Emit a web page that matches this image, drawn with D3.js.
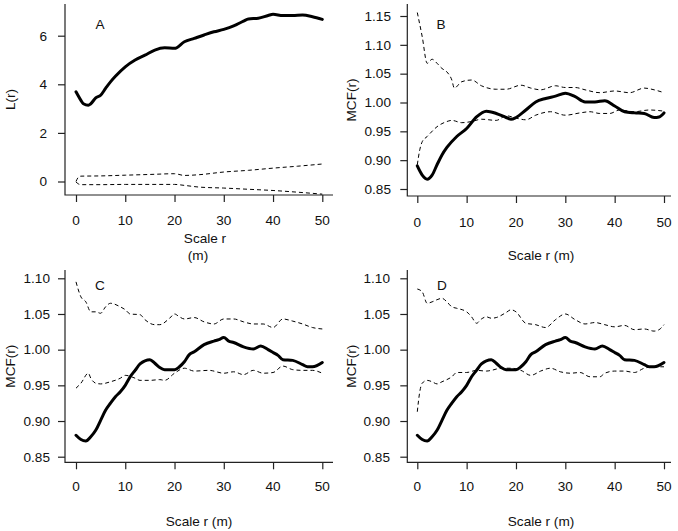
<!DOCTYPE html>
<html><head><meta charset="utf-8">
<script src="https://cdn.jsdelivr.net/npm/d3@7"></script>
<style>
html,body{margin:0;padding:0;background:#fff;}
text{font-family:"Liberation Sans",Arial,Helvetica,sans-serif;fill:#111;}
</style></head>
<body><svg id="c" width="678" height="531"></svg>
<script>
// ---------- DATA ----------
const xTicks = [0, 10, 20, 30, 40, 50];
const yTicksA = [0, 2, 4, 6];
const yTicksB = [0.85, 0.90, 0.95, 1.00, 1.05, 1.10, 1.15];
const yTicksCD = [0.85, 0.90, 0.95, 1.00, 1.05, 1.10];

// Panel A : L(r)
const rA = [0,1,1.5,2.5,3,4,5,6,7,8,10,12,14,16,18,20,22,24,26,28,30,32,34,35,37,39,40,42,44,46,48,50];
const obsA = [3.69,3.34,3.2,3.14,3.2,3.44,3.55,3.83,4.1,4.33,4.72,5.0,5.2,5.41,5.5,5.48,5.75,5.89,6.03,6.16,6.26,6.4,6.6,6.69,6.72,6.83,6.88,6.83,6.83,6.85,6.78,6.67];
const rEnvA = [0,0.5,1,5,10,15,20,22,25,30,35,40,45,50];
const upA = [0.0,0.18,0.22,0.23,0.26,0.29,0.32,0.25,0.28,0.39,0.46,0.55,0.63,0.72];
const loA = [-0.02,-0.1,-0.13,-0.13,-0.12,-0.12,-0.12,-0.16,-0.23,-0.27,-0.32,-0.37,-0.44,-0.52];

// Panel B : MCF(r)
const rObsB = [0,1,2,3,4,5,6,8,10,12,14,16,18,19,20,22,24,26,28,30,32,34,36,38,40,42,44,46,48,49,50];
const obsB = [0.890,0.874,0.867,0.874,0.892,0.909,0.922,0.941,0.955,0.975,0.985,0.981,0.974,0.971,0.974,0.987,1.001,1.007,1.011,1.016,1.010,1.001,1.001,1.003,0.994,0.984,0.982,0.981,0.974,0.975,0.982];
const rUpB = [0,1,2,3,4,5,6,7,7.5,9,11,13,16,18,21,23,25,28,30,32,34,37,40,43,46,48,50];
const upB = [1.156,1.114,1.068,1.075,1.068,1.059,1.053,1.039,1.025,1.036,1.039,1.029,1.023,1.023,1.030,1.025,1.022,1.029,1.026,1.026,1.022,1.017,1.020,1.017,1.025,1.022,1.017];
const rLoB = [0,0.5,1,2,4,6,7,9,11,13,16,18,20,22,24,27,30,33,35,37,39,41,44,47,50];
const loB = [0.892,0.918,0.932,0.941,0.958,0.967,0.969,0.965,0.967,0.971,0.969,0.977,0.973,0.970,0.978,0.984,0.978,0.982,0.984,0.981,0.981,0.987,0.984,0.987,0.985];

// Panel C : MCF(r)
const rObsC = [0,1,2,3,4,5,6,7,8,9,10,11,12,13,15,16,17,18,20,21,22,23,24,26,28,29,30,31,32,34,36,37.5,39,40,41,42,44,46,47,48,50];
const obsC = [0.880,0.874,0.872,0.878,0.887,0.901,0.915,0.925,0.934,0.941,0.950,0.962,0.971,0.980,0.986,0.981,0.975,0.972,0.972,0.976,0.983,0.993,0.997,1.007,1.012,1.014,1.017,1.012,1.010,1.004,1.001,1.005,1.000,0.996,0.992,0.986,0.985,0.979,0.976,0.976,0.982];
const rUpC = [0,1,2,3,4,5,6,7,9,10,11,13,14,16,17,19,20,21,22,24,26,28,30,32,34,36,38,40,42,44,46,48,50];
const upC = [1.095,1.074,1.067,1.053,1.053,1.051,1.060,1.065,1.060,1.056,1.050,1.049,1.042,1.035,1.035,1.044,1.050,1.046,1.043,1.045,1.039,1.036,1.043,1.043,1.039,1.036,1.036,1.031,1.043,1.040,1.036,1.031,1.029];
const rLoC = [0,1,2.5,3,4,5,7,9,10,12,13,15,17,18,20,22,24,27,30,32,34,36,38,40,42,44,46,48,50];
const loC = [0.946,0.953,0.967,0.960,0.953,0.952,0.955,0.960,0.964,0.960,0.957,0.957,0.958,0.957,0.967,0.974,0.970,0.971,0.967,0.969,0.965,0.971,0.967,0.968,0.977,0.972,0.971,0.971,0.967];

// Panel D : MCF(r)
const rObsD = rObsC;
const obsD = [0.880,0.874,0.872,0.878,0.887,0.901,0.915,0.925,0.934,0.941,0.950,0.962,0.971,0.980,0.986,0.981,0.975,0.972,0.972,0.976,0.983,0.993,0.997,1.007,1.012,1.014,1.017,1.012,1.010,1.004,1.001,1.005,1.000,0.996,0.992,0.986,0.985,0.979,0.976,0.976,0.982];
const rUpD = [0,1,2,3,4,5,6,7,8,10,11,12,13,14,15,16,18,19,20,22,24,26,28,30,32,34,36,38,40,42,44,46,48,49,50];
const upD = [1.085,1.081,1.065,1.067,1.070,1.072,1.067,1.060,1.058,1.053,1.046,1.037,1.043,1.046,1.044,1.045,1.052,1.056,1.053,1.037,1.035,1.031,1.042,1.050,1.042,1.036,1.038,1.035,1.032,1.034,1.028,1.029,1.026,1.028,1.035];
const rLoD = [0,0.5,1,2,3,4,5,7,8,10,12,14,15,17,19,21,23,25,27,29,31,33,35,37,38,40,42,44,46,48,50];
const loD = [0.913,0.941,0.953,0.957,0.955,0.952,0.955,0.962,0.968,0.968,0.971,0.970,0.971,0.974,0.974,0.971,0.964,0.970,0.974,0.969,0.967,0.968,0.962,0.962,0.967,0.970,0.970,0.968,0.974,0.976,0.976];

// ---------- DRAW ----------
const svg = d3.select("#c");
const zip = (xs, ys) => xs.map((x, i) => [x, ys[i]]);

const panels = [
  {letter:"A", box:{l:65,r:333,t:4,b:195}, xr:[76,322.3], ydom:[0,6], yr:[181.5,35.7],
   yticks:yTicksA, yfmt:d3.format("d"), labelRight:47, ylab:"L(r)", ylabX:10,
   xlab:["Scale r","(m)"], xlabPos:[[205,242.5],[198,259.5]], tickLabY:224.5, letterPos:[100,28.5],
   series:[{d:zip(rA,obsA),solid:true},{d:zip(rEnvA,upA)},{d:zip(rEnvA,loA)}]},
  {letter:"B", box:{l:407.3,r:671,t:4,b:196}, xr:[417.3,664], ydom:[0.85,1.15], yr:[189,16],
   yticks:yTicksB, yfmt:d3.format(".2f"), labelRight:391, ylab:"MCF(r)", ylabX:351,
   xlab:["Scale r (m)"], xlabPos:[[541,259.5]], tickLabY:226.5, letterPos:[441,28.5],
   series:[{d:zip(rObsB,obsB),solid:true},{d:zip(rUpB,upB)},{d:zip(rLoB,loB)}]},
  {letter:"C", box:{l:65,r:333,t:270,b:462.3}, xr:[76,322.3], ydom:[0.85,1.10], yr:[456.7,278.3],
   yticks:yTicksCD, yfmt:d3.format(".2f"), labelRight:50, ylab:"MCF(r)", ylabX:10,
   xlab:["Scale r (m)"], xlabPos:[[199,525.5]], tickLabY:491, letterPos:[100,290]},
  {letter:"D", box:{l:407.3,r:671,t:270,b:462.3}, xr:[417.3,664], ydom:[0.85,1.10], yr:[456.7,278.3],
   yticks:yTicksCD, yfmt:d3.format(".2f"), labelRight:390, ylab:"MCF(r)", ylabX:351,
   xlab:["Scale r (m)"], xlabPos:[[541,525.5]], tickLabY:491, letterPos:[442,290]}
];
panels[2].series = [{d:zip(rObsC,obsC),solid:true},{d:zip(rUpC,upC)},{d:zip(rLoC,loC)}];
panels[3].series = [{d:zip(rObsD,obsD),solid:true},{d:zip(rUpD,upD)},{d:zip(rLoD,loD)}];

const FS = 13.6;
panels.forEach(p => {
  const g = svg.append("g");
  const x = d3.scaleLinear().domain([0,50]).range(p.xr);
  const y = d3.scaleLinear().domain(p.ydom).range(p.yr);
  const b = p.box;
  // L-shaped box
  g.append("path").attr("d", `M${b.l},${b.t}V${b.b}H${b.r}`)
    .attr("fill","none").attr("stroke","#222").attr("stroke-width",1.2);
  // x axis ticks
  const xa = d3.axisBottom(x).tickValues(xTicks).tickSize(7).tickFormat(d3.format("d"));
  const gx = g.append("g").attr("transform",`translate(0,${b.b})`).call(xa);
  gx.select(".domain").remove();
  gx.selectAll(".tick line").attr("stroke","#222").attr("stroke-width",1.2);
  gx.selectAll(".tick text").remove();
  g.selectAll(".xl").data(xTicks).enter().append("text")
    .attr("x", d => x(d)).attr("y", p.tickLabY).attr("text-anchor","middle")
    .attr("font-size",FS).text(d => d);
  // y axis ticks
  const ya = d3.axisLeft(y).tickValues(p.yticks).tickSize(7);
  const gy = g.append("g").attr("transform",`translate(${b.l},0)`).call(ya);
  gy.select(".domain").remove();
  gy.selectAll(".tick line").attr("stroke","#222").attr("stroke-width",1.2);
  gy.selectAll(".tick text").remove();
  g.selectAll(".yl").data(p.yticks).enter().append("text")
    .attr("x", p.labelRight).attr("y", d => y(d) + 4.8).attr("text-anchor","end")
    .attr("font-size",FS).text(d => p.yfmt(d));
  // y label
  const ymid = (b.t + b.b)/2;
  g.append("text").attr("transform",`translate(${p.ylabX + 4.8},${ymid}) rotate(-90)`)
    .attr("text-anchor","middle").attr("font-size",FS).text(p.ylab);
  // x label
  p.xlab.forEach((t,i) => {
    g.append("text").attr("x",p.xlabPos[i][0]).attr("y",p.xlabPos[i][1])
      .attr("text-anchor","middle").attr("font-size",FS).text(t);
  });
  // letter
  g.append("text").attr("x",p.letterPos[0]).attr("y",p.letterPos[1])
    .attr("text-anchor","middle").attr("font-size",FS).text(p.letter);
  // lines
  const line = d3.line().x(d => x(d[0])).y(d => y(d[1])).curve(d3.curveMonotoneX);
  p.series.forEach(s => {
    g.append("path").attr("d", line(s.d)).attr("fill","none")
      .attr("stroke","#000")
      .attr("stroke-width", s.solid ? 3 : 1)
      .attr("stroke-dasharray", s.solid ? null : "4,3")
      .attr("stroke-linejoin","round").attr("stroke-linecap", s.solid ? "round" : "butt");
  });
});
</script></body></html>
